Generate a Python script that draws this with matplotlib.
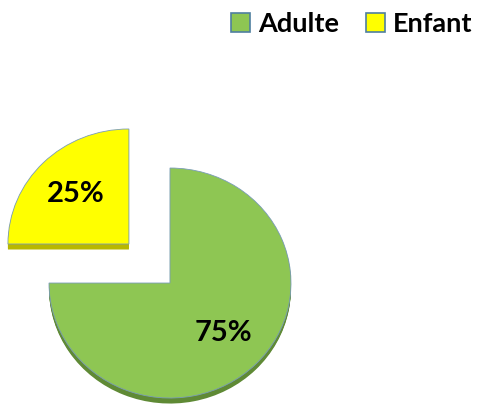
import matplotlib.pyplot as plt
from matplotlib.patches import Patch

labels = ['Adulte', 'Enfant']
values = [75, 25]
explode = [0, 0.48]
top_colors = ['#8ec653', '#ffff00']
side_colors = ['#5f8a35', '#b8b800']

plt.rcParams['font.family'] = ['Lato', 'DejaVu Sans']

fig = plt.figure(figsize=(4.79, 4.04), dpi=100)
ax = fig.add_axes([0, 0, 1, 1])

# side of the "3d" disc: same pie, drawn slightly lower and darker
for step in range(6, 0, -1):
    ax.pie(values, explode=explode, startangle=90, counterclock=False,
           colors=side_colors, center=(0, -0.008 * step),
           wedgeprops={'linewidth': 0})

wedges, texts, autotexts = ax.pie(
    values, explode=explode, startangle=90, counterclock=False,
    colors=top_colors, autopct='%d%%', pctdistance=0.62,
    wedgeprops={'linewidth': 0.6, 'edgecolor': '#7a9cb8'},
    textprops={'fontsize': 21, 'fontweight': 'bold', 'color': 'black'})

ax.set_aspect('auto')
ax.set_xlim(-1.405, 2.554)
ax.set_ylim(-1.052, 2.461)
ax.axis('off')

handles = [Patch(facecolor=c, edgecolor='#4f7fa0', linewidth=1.2) for c in top_colors]
fig.legend(handles, labels, loc='center right', bbox_to_anchor=(1.037, 0.94),
           ncol=2, frameon=False, handlelength=0.7, handleheight=0.7,
           handletextpad=0.3, columnspacing=1.0,
           prop={'size': 19.5, 'weight': 'bold'})

fig.savefig('out.png', dpi=100)
